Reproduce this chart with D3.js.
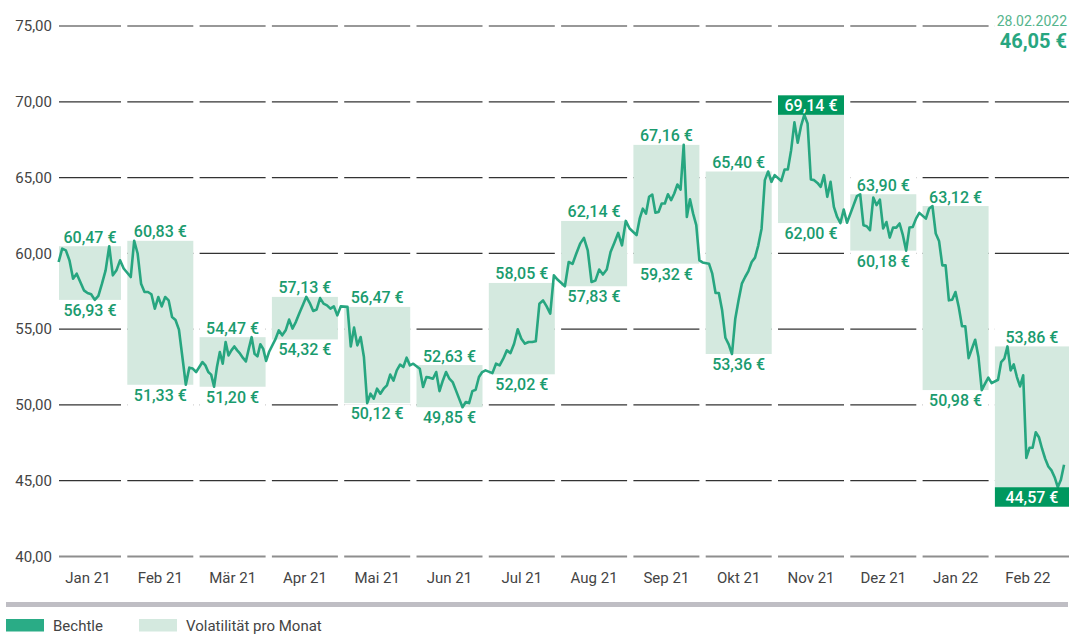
<!DOCTYPE html>
<html lang="de">
<head>
<meta charset="UTF-8">
<title>Bechtle Kursverlauf</title>
<script src="https://d3js.org/d3.v7.min.js"></script>
<style>
  body { margin: 0; background: #fff; font-family: Roboto, "Noto Sans", sans-serif; }
  .tick text { fill: #444; font-size: 15px; font-family: Roboto, sans-serif; }
</style>
</head>
<body>
<div id="chart"></div>
<script>
// months and monthly high / low (volatility boxes)
const months = ["Jan 21", "Feb 21", "Mär 21", "Apr 21", "Mai 21", "Jun 21", "Jul 21",
                "Aug 21", "Sep 21", "Okt 21", "Nov 21", "Dez 21", "Jan 22", "Feb 22"];
const highs = [60.47, 60.83, 54.47, 57.13, 56.47, 52.63, 58.05, 62.14, 67.16, 65.40, 69.14, 63.90, 63.12, 53.86];
const lows  = [56.93, 51.33, 51.20, 54.32, 50.12, 49.85, 52.02, 57.83, 59.32, 53.36, 62.00, 60.18, 50.98, 44.57];
const yTicks = [40, 45, 50, 55, 60, 65, 70, 75];

// daily closing prices per month
const jan21 = [59.43, 60.31, 60.20, 59.54, 58.33, 58.66, 58.11, 57.56, 57.38, 57.30, 56.93, 57.20, 58.00, 58.88, 60.47, 58.55, 58.88, 59.54, 59.00];
const feb21 = [58.44, 60.83, 59.99, 58.00, 57.45, 57.45, 57.30, 56.35, 57.12, 56.50, 57.12, 56.90, 55.80, 55.60, 54.97, 53.16, 51.33, 52.46, 52.40, 52.17];
const mar21 = [52.83, 52.61, 52.17, 52.00, 51.20, 52.50, 53.49, 52.72, 54.15, 53.27, 53.60, 53.86, 53.60, 53.38, 53.10, 52.87, 53.70, 54.47, 53.38, 53.20, 54.00, 53.70, 52.90, 53.49];
const apr21 = [54.32, 54.92, 54.59, 54.92, 55.63, 55.04, 55.50, 56.07, 56.60, 57.13, 56.72, 56.20, 56.30, 57.05, 56.68, 56.57, 56.35, 56.50, 55.91, 56.50];
const mai21 = [56.47, 53.86, 55.10, 53.93, 54.48, 53.16, 50.12, 50.74, 50.41, 51.07, 50.74, 51.07, 51.29, 52.00, 51.60, 52.28, 52.66, 52.50, 53.12, 52.61, 52.72];
const jun21 = [52.39, 51.18, 51.84, 51.80, 51.73, 52.17, 50.91, 51.60, 52.17, 51.73, 51.51, 50.96, 50.40, 49.85, 50.19, 50.12, 50.91, 51.00, 51.84, 52.17, 52.28];
const jul21 = [52.10, 52.72, 52.61, 53.05, 53.60, 53.42, 54.04, 54.99, 54.37, 54.04, 54.15, 54.15, 54.20, 56.68, 56.90, 56.50, 56.02, 58.55, 58.27];
const aug21 = [57.83, 59.43, 59.30, 59.99, 60.64, 61.02, 60.20, 58.11, 58.20, 58.93, 58.60, 58.93, 60.09, 60.70, 61.35, 60.53, 62.14, 61.64];
const sep21 = [61.20, 62.29, 62.95, 62.62, 63.73, 63.88, 62.68, 62.73, 63.29, 63.29, 63.90, 63.51, 63.95, 64.54, 64.21, 67.16, 62.40, 63.57, 62.62, 61.86, 59.54, 59.40];
const okt21 = [59.32, 58.66, 57.38, 57.38, 56.24, 54.43, 54.00, 53.36, 55.69, 56.90, 58.00, 58.44, 58.83, 59.43, 59.72, 60.53, 61.63, 64.83, 65.40, 64.72, 65.16];
const nov21 = [64.78, 65.53, 65.53, 66.81, 68.64, 67.30, 68.39, 69.14, 68.57, 64.87, 64.83, 64.65, 64.39, 65.16, 63.73, 64.72, 63.07, 62.40, 62.00, 62.89, 62.02];
const dez21 = [63.18, 63.77, 63.90, 61.86, 61.79, 61.53, 63.68, 63.18, 63.55, 61.64, 62.07, 61.04, 61.70, 61.70, 61.97, 61.20, 60.18, 61.70, 61.74, 62.29, 62.67];
const jan22 = [62.29, 62.96, 63.12, 61.31, 60.82, 59.21, 59.21, 56.90, 56.94, 57.45, 56.46, 55.19, 55.19, 53.09, 53.71, 54.30, 53.16, 50.98, 51.40, 51.80, 51.44];
const feb22 = [51.66, 52.83, 53.05, 53.86, 52.28, 52.67, 51.84, 51.22, 51.95, 46.51, 47.17, 47.17, 48.20, 47.87, 47.11, 46.45, 45.94, 45.68, 45.23, 44.57, 45.06, 46.05];
const closes = [jan21, feb21, mar21, apr21, mai21, jun21, jul21, aug21, sep21, okt21, nov21, dez21, jan22, feb22];

const lastDate = "28.02.2022";
const lastValue = 46.05;

const width = 1070, height = 635;
const plotLeft = 59, plotRight = 1069;
const green = "#27a680", labelGreen = "#1a9b6e", boxFill = "#d4e9df", darkGreen = "#00985f";

const de = d3.formatLocale({ decimal: ",", thousands: ".", grouping: [3], currency: ["", " €"] });
const fmt = de.format(".2f");
const euro = v => `${fmt(v)} €`;

const svg = d3.select("#chart").append("svg")
    .attr("width", width)
    .attr("height", height);

const x = d3.scaleBand()
    .domain(months)
    .range([55, 1060.9])
    .paddingInner(0.0871)
    .paddingOuter(0);

const y = d3.scaleLinear()
    .domain([40, 75])
    .range([556.5, 26]);

// left / right edge of a month column, clipped to the plot
const colL = m => Math.max(x(m), plotLeft);
const colR = (m, i) => i === months.length - 1 ? plotRight : x(m) + x.bandwidth();

// gridlines, one segment per month column
const grid = svg.append("g");
yTicks.forEach(t => {
    months.forEach((m, i) => {
        grid.append("line")
            .attr("x1", colL(m)).attr("x2", colR(m, i))
            .attr("y1", y(t)).attr("y2", y(t))
            .attr("stroke", t === 40 ? "#8e8e8e" : "#333")
            .attr("stroke-width", t === 40 ? 2 : 1.2);
    });
});

// volatility boxes
svg.append("g").selectAll("rect")
    .data(months)
    .join("rect")
    .attr("x", d => colL(d))
    .attr("width", (d, i) => colR(d, i) - colL(d))
    .attr("y", (d, i) => y(highs[i]))
    .attr("height", (d, i) => y(lows[i]) - y(highs[i]))
    .attr("fill", boxFill);

const maxIdx = d3.maxIndex(highs);
const minIdx = d3.minIndex(lows);

// white backdrop behind the labels (hides gridlines)
const bg = svg.append("g").attr("fill", "#fff");
months.forEach((m, i) => {
    bg.append("rect").attr("x", colL(m)).attr("width", colR(m, i) - colL(m))
        .attr("y", y(highs[i]) - 20).attr("height", 19.5);
    bg.append("rect").attr("x", colL(m)).attr("width", colR(m, i) - colL(m))
        .attr("y", y(lows[i]) + 1).attr("height", 20.5);
});
// backdrop behind the header in the last column
svg.append("rect")
    .attr("x", colL(months[13])).attr("width", plotRight - colL(months[13]))
    .attr("y", 8).attr("height", 44).attr("fill", "#fff");

// price line
const points = [];
closes.forEach((arr, k) => {
    const x0 = x(months[k]);
    arr.forEach((v, i) => points.push({ x: x0 + (i + 1) / (arr.length + 1) * x.step(), v }));
});

svg.append("path")
    .datum(points)
    .attr("fill", "none")
    .attr("stroke", green)
    .attr("stroke-width", 2.6)
    .attr("stroke-linejoin", "round")
    .attr("d", d3.line().x(d => d.x).y(d => y(d.v)));

// high / low labels
const labels = svg.append("g")
    .attr("font-family", "Roboto, sans-serif")
    .attr("font-size", 16)
    .attr("font-weight", 500)
    .attr("text-anchor", "middle");

months.forEach((m, i) => {
    const cx = (colL(m) + colR(m, i)) / 2;
    const top = y(highs[i]), bottom = y(lows[i]);

    if (i === maxIdx) {
        labels.append("rect").attr("x", colL(m)).attr("width", colR(m, i) - colL(m))
            .attr("y", top - 19.5).attr("height", 19.5).attr("fill", darkGreen);
    }
    labels.append("text")
        .attr("x", cx).attr("y", top - 3.5)
        .attr("fill", i === maxIdx ? "#fff" : labelGreen)
        .text(euro(highs[i]));

    if (i === minIdx) {
        labels.append("rect").attr("x", colL(m)).attr("width", colR(m, i) - colL(m))
            .attr("y", bottom).attr("height", 19.5).attr("fill", darkGreen);
    }
    labels.append("text")
        .attr("x", cx).attr("y", bottom + 16)
        .attr("fill", i === minIdx ? "#fff" : labelGreen)
        .text(euro(lows[i]));
});

// axes
svg.append("g")
    .attr("transform", "translate(55,0)")
    .call(d3.axisLeft(y).tickValues(yTicks).tickFormat(fmt).tickSize(0).tickPadding(3))
    .call(g => g.select(".domain").remove());

svg.append("g")
    .attr("transform", "translate(0,556.5)")
    .call(d3.axisBottom(x).tickSize(0).tickPadding(16))
    .call(g => g.select(".domain").remove());

// header: last price
svg.append("text")
    .attr("x", 1067).attr("y", 26)
    .attr("text-anchor", "end")
    .attr("font-size", 14)
    .attr("fill", "#55b58d")
    .text(lastDate);

svg.append("text")
    .attr("x", 1067).attr("y", 47.5)
    .attr("text-anchor", "end")
    .attr("font-size", 20)
    .attr("font-weight", 700)
    .attr("fill", green)
    .text(euro(lastValue));

// legend
svg.append("rect")
    .attr("x", 6).attr("y", 602).attr("width", 1062).attr("height", 5)
    .attr("fill", "#bfbec4");

const legend = [
    { label: "Bechtle", color: "#2aac86", x: 6 },
    { label: "Volatilität pro Monat", color: boxFill, x: 139 }
];
const lg = svg.append("g").selectAll("g")
    .data(legend)
    .join("g")
    .attr("transform", d => `translate(${d.x},619)`);
lg.append("rect").attr("width", 38).attr("height", 12.5).attr("fill", d => d.color);
lg.append("text")
    .attr("x", 47).attr("y", 11.5)
    .attr("font-size", 15)
    .attr("fill", "#444")
    .text(d => d.label);
</script>
</body>
</html>
